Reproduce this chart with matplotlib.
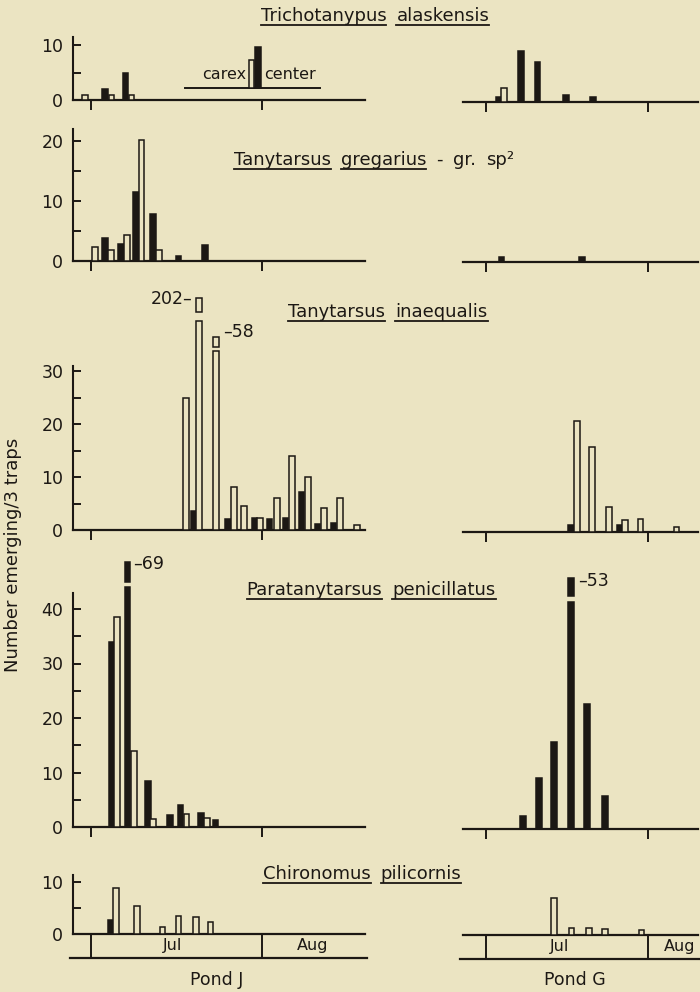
import numpy as np
import matplotlib
matplotlib.use('Agg')
import matplotlib.pyplot as plt
from matplotlib.lines import Line2D

W, H = 700, 992
BG = '#ebe4c2'
INK = '#1c1814'

plt.rcParams['font.family'] = ['DejaVu Sans']
plt.rcParams['font.size'] = 11

# days counted from 1 July (day 0); 1 August = day 31
month_edges = [0, 31]
month_names = ['Jul', 'Aug']

# Trichotanypus alaskensis
tri_j_solid_day = [2.5, 6.25]
tri_j_solid_n = [2, 5]
tri_j_open_day = [-1.1, 3.7, 7.3]
tri_j_open_n = [1, 1, 1]
tri_carex_solid_day = [30.3]
tri_carex_solid_n = [7.5]
tri_carex_open_day = [29.1]
tri_carex_open_n = [5]
tri_g_solid_day = [2.5, 6.7, 9.9, 15.3, 20.5]
tri_g_solid_n = [1, 9.3, 7.2, 1.3, 1]
tri_g_open_day = [3.4]
tri_g_open_n = [2.5]

# Tanytarsus gregarius - gr. sp2
greg_j_solid_day = [2.5, 5.4, 8.2, 11.2, 15.9, 20.7]
greg_j_solid_n = [3.9, 2.8, 11.5, 7.9, 0.8, 2.6]
greg_j_open_day = [0.7, 3.6, 6.5, 9.2, 12.3]
greg_j_open_n = [2.3, 1.8, 4.3, 20.1, 1.8]
greg_g_solid_day = [3.0, 18.4]
greg_g_solid_n = [0.8, 0.9]
greg_g_open_day = []
greg_g_open_n = []

# Tanytarsus inaequalis
inae_j_solid_day = [18.7, 24.8, 29.6, 32.4, 35.3, 38.2, 41.1, 44.0]
inae_j_solid_n = [3.6, 2.1, 2.3, 2.1, 2.2, 7.2, 1.2, 1.4]
inae_j_open_day = [17.2, 19.6, 22.7, 25.9, 27.7, 30.6, 33.7, 36.4, 39.3, 42.2, 45.1, 48.2]
inae_j_open_n = [25, 202, 58, 8.1, 4.5, 2.3, 6.0, 14, 10, 4.2, 6, 1.0]
inae_g_solid_day = [16.3, 25.6]
inae_g_solid_n = [1.4, 1.4]
inae_g_open_day = [17.4, 20.3, 23.5, 26.6, 29.6, 36.5]
inae_g_open_n = [21, 16, 4.7, 2.2, 2.4, 0.9]

# Paratanytarsus penicillatus
peni_j_solid_day = [3.7, 6.6, 10.3, 14.3, 16.2, 19.9, 22.6]
peni_j_solid_n = [34, 69, 8.4, 2.2, 4.0, 2.5, 1.3]
peni_j_open_day = [4.7, 7.8, 11.2, 17.3, 21.0]
peni_j_open_n = [38.5, 14, 1.5, 2.4, 1.7]
peni_g_solid_day = [7.1, 10.1, 13.0, 16.3, 19.3, 22.8]
peni_g_solid_n = [2.4, 9.3, 16, 53, 23, 6]
peni_g_open_day = []
peni_g_open_n = []

# Chironomus pilicornis
chir_j_solid_day = [3.6]
chir_j_solid_n = [2.7]
chir_j_open_day = [4.5, 8.3, 13.0, 15.9, 19.0, 21.7]
chir_j_open_n = [8.8, 5.4, 1.4, 3.5, 3.3, 2.4]
chir_g_solid_day = []
chir_g_solid_n = []
chir_g_open_day = [13.0, 16.4, 19.7, 22.8, 29.8]
chir_g_open_n = [7.1, 1.3, 1.3, 1.2, 1.0]

titles = [
    [('Trichotanypus', True), ('alaskensis', True)],
    [('Tanytarsus', True), ('gregarius', True), ('-', False), ('gr.', False), ('sp²', False)],
    [('Tanytarsus', True), ('inaequalis', True)],
    [('Paratanytarsus', True), ('penicillatus', True)],
    [('Chironomus', True), ('pilicornis', True)],
]

panels_j = [
    (tri_j_solid_day, tri_j_solid_n, tri_j_open_day, tri_j_open_n),
    (greg_j_solid_day, greg_j_solid_n, greg_j_open_day, greg_j_open_n),
    (inae_j_solid_day, inae_j_solid_n, inae_j_open_day, inae_j_open_n),
    (peni_j_solid_day, peni_j_solid_n, peni_j_open_day, peni_j_open_n),
    (chir_j_solid_day, chir_j_solid_n, chir_j_open_day, chir_j_open_n),
]
panels_g = [
    (tri_g_solid_day, tri_g_solid_n, tri_g_open_day, tri_g_open_n),
    (greg_g_solid_day, greg_g_solid_n, greg_g_open_day, greg_g_open_n),
    (inae_g_solid_day, inae_g_solid_n, inae_g_open_day, inae_g_open_n),
    (peni_g_solid_day, peni_g_solid_n, peni_g_open_day, peni_g_open_n),
    (chir_g_solid_day, chir_g_solid_n, chir_g_open_day, chir_g_open_n),
]

# layout in pixels
rows = [
    dict(top=28, bot=118, y0=(100, 102), s=5.5, spine=11.5, ymax=10, title=(375, 21)),
    dict(top=120, bot=276, y0=(261, 262), s=6.0, spine=22, ymax=20, title=(374, 165)),
    dict(top=285, bot=546, y0=(530, 532), s=5.3, spine=31, ymax=30, title=(388, 317)),
    dict(top=550, bot=843, y0=(827, 829), s=5.45, spine=43, ymax=40, title=(371, 595)),
    dict(top=860, bot=965, y0=(934, 935), s=5.2, spine=11.3, ymax=10, title=(362, 879)),
]
cols = [dict(x0=73, x1=365, jul=91, ppd=171 / 31),
        dict(x0=463, x1=698, jul=486, ppd=162 / 31)]

# broken bars: value -> (lower part top, cap bottom, cap top) in axis units
broken = {202: (39.4, 41.1, 43.8), 58: (33.8, 34.5, 36.4),
          69: (44.0, 45.0, 48.6), 53: (41.6, 42.7, 46.0)}
broken_lbl = {202: (18.4, 43.6, 'right'), 58: (23.9, 37.4, 'left'),
              69: (7.7, 48.3, 'left'), 53: (17.7, 45.5, 'left')}

fig = plt.figure(figsize=(W / 100, H / 100), dpi=100, facecolor=BG)


def draw_bars(ax, days, ns, filled, w):
    fc = INK if filled else BG
    for d, n in zip(days, ns):
        if n in broken:
            lo, c0, c1 = broken[n]
            ax.bar(d, lo, width=w, color=fc, edgecolor=INK, lw=1.1, zorder=3)
            ax.bar(d, c1 - c0, bottom=c0, width=w, color=fc, edgecolor=INK, lw=1.1, zorder=3)
            lx, ly, side = broken_lbl[n]
            txt = f'{n}\u2013' if side == 'right' else f'\u2013{n}'
            ax.text(lx, ly, txt, ha=side, va='center', fontsize=12.5, color=INK)
        else:
            ax.bar(d, n, width=w, color=fc, edgecolor=INK, lw=1.1, zorder=3)


for r, row in enumerate(rows):
    for c, col in enumerate(cols):
        y0 = row['y0'][c]
        ax = fig.add_axes([col['x0'] / W, 1 - row['bot'] / H,
                           (col['x1'] - col['x0']) / W, (row['bot'] - row['top']) / H])
        ax.patch.set_alpha(0)
        ppd = col['ppd']
        ax.set_xlim((col['x0'] - col['jul']) / ppd, (col['x1'] - col['jul']) / ppd)
        ax.set_ylim(-(row['bot'] - y0) / row['s'], (y0 - row['top']) / row['s'])
        for sp in ['top', 'right']:
            ax.spines[sp].set_visible(False)
        ax.spines['bottom'].set_position(('data', 0))
        ax.spines['bottom'].set_linewidth(1.6)
        ax.spines['bottom'].set_color(INK)
        if c == 0:
            ax.spines['left'].set_bounds(0, row['spine'])
            ax.spines['left'].set_linewidth(1.5)
            ax.spines['left'].set_color(INK)
            ax.set_yticks(list(range(0, row['ymax'] + 1, 10)))
            ax.set_yticks(list(range(5, row['ymax'], 10)), minor=True)
            ax.tick_params(axis='y', which='both', direction='in', length=6, width=1.4,
                           pad=7, color=INK, labelsize=12.5, labelcolor=INK)
        else:
            ax.spines['left'].set_visible(False)
            ax.set_yticks([])

        w = 5.5 / ppd
        sd, sn, od, on = (panels_j if c == 0 else panels_g)[r]
        draw_bars(ax, sd, sn, True, w)
        draw_bars(ax, od, on, False, w)

        if r == 0 and c == 0:
            # carex / center inset on its own baseline
            yb = 2.2
            ax.plot([17.0, 41.5], [yb, yb], color=INK, lw=1.4)
            ax.bar(tri_carex_open_day, tri_carex_open_n, bottom=yb, width=w,
                   color=BG, edgecolor=INK, lw=1.1, zorder=3)
            ax.bar(tri_carex_solid_day, tri_carex_solid_n, bottom=yb, width=w,
                   color=INK, edgecolor=INK, lw=1.1, zorder=3)
            ax.text(28.2, 4.6, 'carex', ha='right', va='center', fontsize=11.5, color=INK)
            ax.text(31.3, 4.6, 'center', ha='left', va='center', fontsize=11.5, color=INK)

        if r < 4:
            ax.set_xticks(month_edges)
            ax.tick_params(axis='x', direction='out', length=7, width=1.4,
                           color=INK, labelbottom=False)
        else:
            ax.set_xticks([])
            yb = -4.6
            xl = ax.get_xlim()
            ax.plot([xl[0] - 0.5, xl[1] + 0.3], [yb, yb], color=INK, lw=1.6, clip_on=False)
            for e in month_edges:
                ax.plot([e, e], [0, yb], color=INK, lw=1.4)
            jx, gx = (14.7, 40.2) if c == 0 else (14.1, 37.1)
            ax.text(jx, yb / 2, month_names[0], ha='center', va='center', fontsize=11.5, color=INK)
            ax.text(gx, yb / 2, month_names[1], ha='center', va='center', fontsize=11.5, color=INK)

# titles with underlined words
renderer = fig.canvas.get_renderer()
for row, words in zip(rows, titles):
    cx, base = row['title']
    objs = []
    for wd, u in words:
        t = fig.text(0, 1 - base / H, wd, ha='left', va='baseline', fontsize=13, color=INK)
        objs.append((t, t.get_window_extent(renderer).width, u))
    gap = 10
    total = sum(o[1] for o in objs) + gap * (len(objs) - 1)
    x = cx - total / 2
    for t, wdt, u in objs:
        t.set_x(x / W)
        if u:
            fig.add_artist(Line2D([x / W, (x + wdt) / W], [1 - (base + 4) / H] * 2,
                                  color=INK, lw=1.3))
        x += wdt + gap

fig.text(13 / W, 1 - 555 / H, 'Number emerging/3 traps', rotation=90,
         ha='center', va='center', fontsize=13, color=INK)
fig.text(217 / W, 1 - 980 / H, 'Pond J', ha='center', va='center', fontsize=12.5, color=INK)
fig.text(575 / W, 1 - 980 / H, 'Pond G', ha='center', va='center', fontsize=12.5, color=INK)

fig.savefig('out.png', dpi=100, facecolor=BG)
